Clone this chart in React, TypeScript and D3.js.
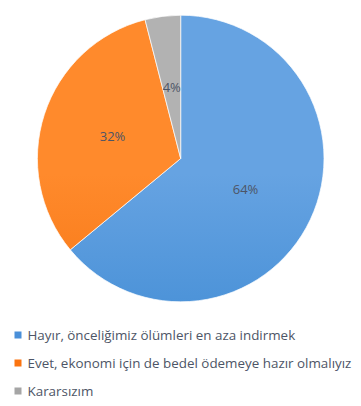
import * as d3 from 'd3'

const categories = [
  'Hayır, önceliğimiz ölümleri en aza indirmek',
  'Evet, ekonomi için de bedel ödemeye hazır olmalıyız',
  'Kararsızım',
]
const values = [64, 32, 4]
const labels = ['64%', '32%', '4%']
const topColors = ['#66a3e2', '#ff8a2c', '#b2b2b2']
const bottomColors = ['#2e80cd', '#ef6600', '#9a9a9a']
const swatchColors = ['#4a90d9', '#fb7410', '#a5a5a5']

export default function App() {
  const width = 361
  const height = 406
  const cx = 180.7
  const cy = 158.5
  const r = 143.3

  const pie = d3.pie<number>().sort(null).value((d) => d)
  const arcs = pie(values)
  const arc = d3.arc<d3.PieArcDatum<number>>().innerRadius(0).outerRadius(r)

  const legendY = d3.scalePoint<number>().domain([0, 1, 2]).range([335, 391])

  return (
    <svg
      width={width}
      height={height}
      style={{ position: 'absolute', left: 0, top: 0, fontFamily: '"Open Sans", sans-serif' }}
    >
      <defs>
        {categories.map((_, i) => (
          <linearGradient
            key={i}
            id={`g${i}`}
            gradientUnits="userSpaceOnUse"
            x1={0}
            y1={cy - r}
            x2={0}
            y2={cy + r}
          >
            <stop offset="0%" stopColor={topColors[i]} />
            <stop offset="100%" stopColor={bottomColors[i]} />
          </linearGradient>
        ))}
      </defs>
      <rect width={width} height={height} fill="#fff" />
      <g transform={`translate(${cx},${cy})`}>
        {arcs.map((a, i) => (
          <path key={i} d={arc(a) ?? ''} fill={`url(#g${i})`} stroke="#fff" strokeWidth={0.7} />
        ))}
        {arcs.map((a, i) => {
          const [lx, ly] = arc.centroid(a)
          return (
            <text
              key={`l${i}`}
              x={lx}
              y={ly}
              dy="0.35em"
              textAnchor="middle"
              fontSize={13}
              fill="#4d5566"
            >
              {labels[i]}
            </text>
          )
        })}
      </g>
      {categories.map((c, i) => (
        <g key={`lg${i}`} transform={`translate(0,${legendY(i)})`}>
          <rect x={14.5} y={-3.5} width={7} height={7} fill={swatchColors[i]} />
          <text x={27.5} y={0} dy="0.35em" fontSize={13.4} fill="#4d5566">
            {c}
          </text>
        </g>
      ))}
    </svg>
  )
}
